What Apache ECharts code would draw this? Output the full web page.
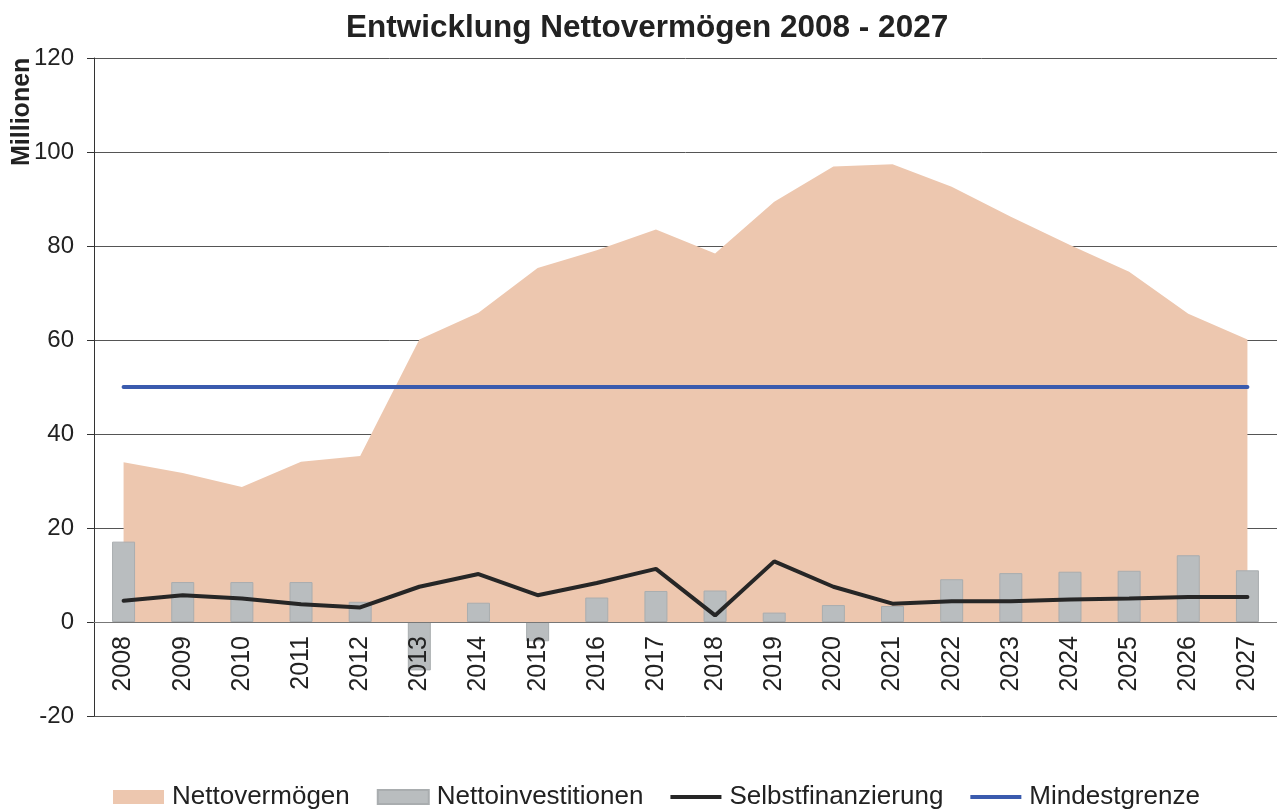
<!DOCTYPE html>
<html>
<head>
<meta charset="utf-8">
<script src="https://cdn.jsdelivr.net/npm/echarts@6/dist/echarts.min.js"></script>
<style>
  html, body { margin: 0; padding: 0; background: #fff; }
  #chart { width: 1277px; height: 810px; }
</style>
</head>
<body>
<div id="chart"></div>
<script>
// Daten (Millionen)
const jahre = ['2008','2009','2010','2011','2012','2013','2014','2015','2016','2017',
               '2018','2019','2020','2021','2022','2023','2024','2025','2026','2027'];
const nettovermoegen = [34.0, 31.7, 28.7, 34.1, 35.3, 60.1, 65.8, 75.3, 79.1, 83.5,
                        78.4, 89.4, 96.9, 97.4, 92.6, 86.2, 80.2, 74.5, 65.6, 60.1];
const nettoinvestitionen = [17.1, 8.5, 8.5, 8.5, 4.3, -10.3, 4.1, -4.1, 5.2, 6.6,
                            6.7, 2.0, 3.6, 3.4, 9.1, 10.4, 10.7, 10.9, 14.2, 11.0];
const selbstfinanzierung = [4.5, 5.7, 5.0, 3.8, 3.1, 7.5, 10.2, 5.7, 8.3, 11.3,
                            1.4, 12.9, 7.5, 3.9, 4.4, 4.4, 4.8, 5.0, 5.3, 5.3];
const mindestgrenze = [50, 50, 50, 50, 50, 50, 50, 50, 50, 50,
                       50, 50, 50, 50, 50, 50, 50, 50, 50, 50];

const font = 'Liberation Sans, Arial, sans-serif';
// Linien-Symbol für die Legende (dünner Balken in der Mitte)
const linienIcon = 'path://M0,0L54,0L54,0Z M0,5L54,5L54,9L0,9Z M0,14L54,14L54,14Z';

let myChart = echarts.init(document.getElementById('chart'));

let option = {
    animation: false,
    title: {
        text: 'Entwicklung Nettovermögen 2008 - 2027',
        left: 341,
        top: 7,
        textStyle: { fontFamily: font, fontSize: 31.5, fontWeight: 'bold', color: '#222' }
    },
    graphic: [{
        type: 'text',
        x: 10,
        y: 166,
        rotation: Math.PI / 2,
        style: { text: 'Millionen', font: 'bold 25px ' + font, fill: '#222' }
    }],
    legend: {
        top: 779,
        left: 108,
        itemWidth: 51,
        itemHeight: 14,
        itemGap: 27,
        textStyle: { fontFamily: font, fontSize: 26, color: '#222', padding: [0, 0, 0, 3] },
        data: [
            { name: 'Nettovermögen', icon: 'rect' },
            { name: 'Nettoinvestitionen', icon: 'rect' },
            { name: 'Selbstfinanzierung', icon: linienIcon },
            { name: 'Mindestgrenze', icon: linienIcon }
        ]
    },
    grid: { left: 94, right: 0, top: 58, bottom: 94 },
    xAxis: {
        type: 'category',
        data: jahre,
        boundaryGap: true,
        position: 'bottom',
        offset: -94,
        z: 10,
        axisLine: { onZero: false, lineStyle: { color: '#777', width: 1 } },
        axisTick: { show: false },
        axisLabel: { rotate: 90, margin: 14, fontFamily: font, fontSize: 25, color: '#222' }
    },
    yAxis: {
        type: 'value',
        min: -20,
        max: 120,
        interval: 20,
        axisLine: { show: true, lineStyle: { color: '#333', width: 1 } },
        axisTick: { show: true, length: 7, lineStyle: { color: '#333' } },
        axisLabel: { margin: 20, fontFamily: font, fontSize: 24, color: '#222' },
        splitLine: { lineStyle: { color: '#555', width: 1 } }
    },
    series: [
        {
            name: 'Nettovermögen',
            type: 'line',
            z: 1,
            data: nettovermoegen,
            symbol: 'none',
            lineStyle: { width: 0, color: '#EDC7AF' },
            itemStyle: { color: '#EDC7AF' },
            areaStyle: { color: '#EDC7AF', opacity: 1 }
        },
        {
            name: 'Nettoinvestitionen',
            type: 'bar',
            z: 3,
            data: nettoinvestitionen,
            barWidth: 23,
            itemStyle: { color: '#B9BDBF', borderColor: '#A9ADAF', borderWidth: 1 }
        },
        {
            name: 'Selbstfinanzierung',
            type: 'line',
            z: 4,
            data: selbstfinanzierung,
            symbol: 'none',
            lineStyle: { width: 4, color: '#262626', cap: 'round' },
            itemStyle: { color: '#262626' }
        },
        {
            name: 'Mindestgrenze',
            type: 'line',
            z: 4,
            data: mindestgrenze,
            symbol: 'none',
            lineStyle: { width: 4, color: '#3A5BAE', cap: 'round' },
            itemStyle: { color: '#3A5BAE' }
        }
    ]
};

myChart.setOption(option);
</script>
</body>
</html>
